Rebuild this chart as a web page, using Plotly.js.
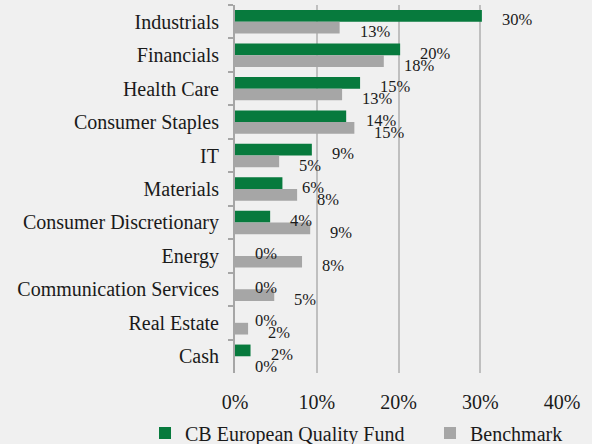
<!DOCTYPE html>
<html>
<head>
<meta charset="utf-8">
<script src="https://cdn.plot.ly/plotly-3.0.1.min.js"></script>
<style>
html,body{margin:0;padding:0;background:#f0f0f0;}
#chart{width:592px;height:444px;}
</style>
</head>
<body>
<div id="chart"></div>
<script>
var categories = ["Industrials","Financials","Health Care","Consumer Staples","IT","Materials","Consumer Discretionary","Energy","Communication Services","Real Estate","Cash"];
var fundValues = [30.2, 20.2, 15.3, 13.6, 9.4, 5.8, 4.3, 0, 0, 0, 1.9];
var benchValues = [12.8, 18.2, 13.1, 14.6, 5.4, 7.6, 9.2, 8.2, 4.8, 1.6, 0];
var xTickVals = [0, 10, 20, 30, 40];
var xTickText = ["0%", "10%", "20%", "30%", "40%"];
var seriesNames = ["CB European Quality Fund", "Benchmark"];

var FONT = "Liberation Serif";
var green = "#077a3d", grey = "#a6a6a6", txt = "#1a1a1a";

var traces = [
  {type:"bar", orientation:"h", name:seriesNames[0], y:categories, x:fundValues,
   marker:{color:green}, hoverinfo:"x+y", legendwidth:240},
  {type:"bar", orientation:"h", name:seriesNames[1], y:categories, x:benchValues,
   marker:{color:grey}, hoverinfo:"x+y"}
];

var annotations = [];
function addLabels(vals, yshift){
  vals.forEach(function(v,i){
    annotations.push({x:v, y:categories[i], xref:"x", yref:"y", text:Math.round(v)+"%",
      showarrow:false, xanchor:"left", yanchor:"middle", xshift:18, yshift:yshift,
      font:{family:FONT, size:16.5, color:txt}});
  });
}
addLabels(fundValues, 2);
addLabels(benchValues, -10);

var layout = {
  width:592, height:444,
  paper_bgcolor:"#f0f0f0", plot_bgcolor:"#f0f0f0",
  margin:{l:235, r:30, t:5, b:71, pad:0, autoexpand:false},
  barmode:"group", bargap:0.3, bargroupgap:0,
  font:{family:FONT, size:20, color:txt},
  showlegend:true,
  legend:{orientation:"h", x:-0.2752, xanchor:"left", y:-0.163, yanchor:"middle",
    font:{family:FONT, size:20, color:txt}, bgcolor:"rgba(0,0,0,0)", traceorder:"normal"},
  xaxis:{range:[0,40], tickvals:xTickVals, ticktext:xTickText, showgrid:true,
    gridcolor:"#bfbfbf", gridwidth:2, zeroline:false, showline:false, ticks:"",
    ticklabelstandoff:15, tickfont:{family:FONT, size:20, color:txt}, fixedrange:true},
  yaxis:{type:"category", autorange:false, range:[categories.length-0.5, -0.5],
    showline:true, linecolor:"#a6a6a6", linewidth:2,
    ticks:"outside", tickson:"boundaries", ticklen:5, tickcolor:"#a6a6a6", tickwidth:2,
    showgrid:false, zeroline:false, ticklabelstandoff:10,
    tickfont:{family:FONT, size:20, color:txt}, fixedrange:true},
  annotations:annotations
};

Plotly.newPlot("chart", traces, layout, {displayModeBar:false, staticPlot:true});
</script>
</body>
</html>
